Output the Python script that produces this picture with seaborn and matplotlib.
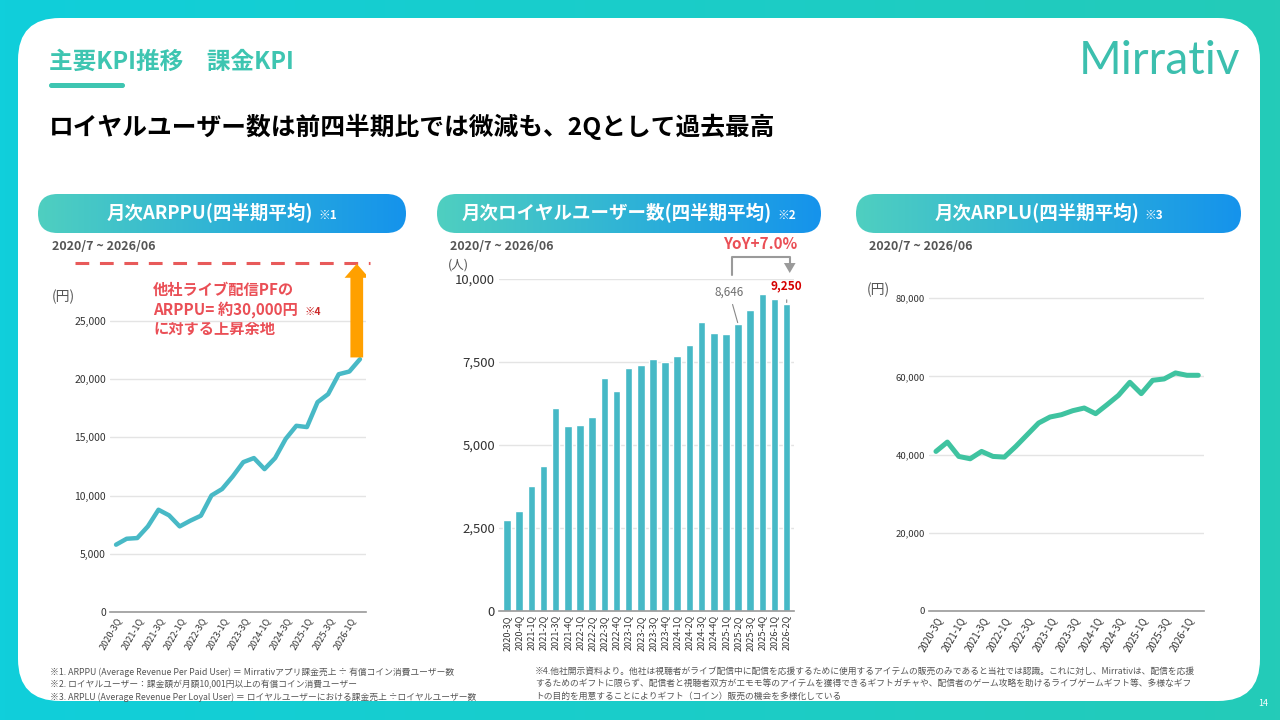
import matplotlib
matplotlib.use("Agg")
import numpy as np
import pandas as pd
import seaborn as sns
import matplotlib.pyplot as plt
from matplotlib.patches import FancyBboxPatch
from matplotlib.colors import LinearSegmentedColormap

# -----------------------------
# data
# -----------------------------
quarters = [
    "2020-3Q", "2020-4Q", "2021-1Q", "2021-2Q", "2021-3Q", "2021-4Q",
    "2022-1Q", "2022-2Q", "2022-3Q", "2022-4Q", "2023-1Q", "2023-2Q",
    "2023-3Q", "2023-4Q", "2024-1Q", "2024-2Q", "2024-3Q", "2024-4Q",
    "2025-1Q", "2025-2Q", "2025-3Q", "2025-4Q", "2026-1Q", "2026-2Q",
]
arppu = [5780, 6290, 6350, 7350, 8780, 8300, 7350, 7840, 8270, 10010, 10560, 11640,
         12870, 13220, 12270, 13220, 14870, 15990, 15880, 18020, 18710, 20420, 20650, 21710]
loyal_users = [2744, 3015, 3779, 4372, 6111, 5558, 5588, 5839, 7025, 6623, 7317, 7417,
               7578, 7487, 7668, 8010, 8703, 8372, 8352, 8646, 9055, 9548, 9387, 9250]
arplu = [40810, 43200, 39530, 38930, 40810, 39530, 39360, 42090, 45080, 48070, 49610, 50200,
         51230, 51910, 50460, 52760, 55150, 58490, 55580, 59000, 59340, 60880, 60280, 60280]
peer_arppu = 30000

df = pd.DataFrame({"quarter": quarters, "arppu": arppu,
                   "loyal": loyal_users, "arplu": arplu})

# -----------------------------
# style
# -----------------------------
sns.set_theme(style="white")
plt.rcParams["font.family"] = ["Noto Sans CJK JP", "DejaVu Sans"]

W, H = 1280, 720
fig = plt.figure(figsize=(12.8, 7.2), dpi=100)

def px_axes(x0, y0, x1, y1):
    return fig.add_axes([x0 / W, 1 - y1 / H, (x1 - x0) / W, (y1 - y0) / H])

# background canvas in pixel coordinates
bg = fig.add_axes([0, 0, 1, 1])
grad = np.linspace(0, 1, 256).reshape(1, -1)
teal_cmap = LinearSegmentedColormap.from_list("teal", ["#10cfdb", "#24cbb8"])
bg.imshow(grad, extent=(0, W, H, 0), cmap=teal_cmap, aspect="auto", zorder=0)
bg.add_patch(FancyBboxPatch((18, 18), 1242, 683,
                            boxstyle="round,pad=0,rounding_size=42",
                            fc="white", ec="none", zorder=1))
bg.axis("off")

# header
bg.text(49, 62, "主要KPI推移　課金KPI", fontsize=17, fontweight="bold",
        color="#3ec5b1", va="center", ha="left", zorder=3)
bg.add_patch(FancyBboxPatch((49, 83), 76, 5, boxstyle="round,pad=0,rounding_size=2.5",
                            fc="#3ec5b1", ec="none", zorder=3))
bg.text(49, 127, "ロイヤルユーザー数は前四半期比では微減も、2Qとして過去最高",
        fontsize=17.8, fontweight="bold", color="black", va="center", ha="left", zorder=3)
bg.text(1240, 61, "Mirrativ", fontsize=33, family=["Lato", "DejaVu Sans"],
        color="#3cbfae", va="center", ha="right", zorder=3)

# pill headers with gradient
pill_cmap = LinearSegmentedColormap.from_list("pill", ["#4fcfc0", "#2fb3d6", "#1593ec"])
pills = [(38, 406, "月次ARPPU(四半期平均)", "※1"),
         (437, 821, "月次ロイヤルユーザー数(四半期平均)", "※2"),
         (856, 1241, "月次ARPLU(四半期平均)", "※3")]
pill_texts = []
for x0, x1, label, note in pills:
    y0, h = 194, 39
    patch = FancyBboxPatch((x0, y0), x1 - x0, h, boxstyle=f"round,pad=0,rounding_size={h / 2}",
                           fc="none", ec="none", zorder=2)
    bg.add_patch(patch)
    im = bg.imshow(grad, extent=(x0, x1, y0 + h, y0), cmap=pill_cmap, aspect="auto", zorder=2)
    im.set_clip_path(patch)
    t = bg.text(x0, y0 + h / 2, label, fontsize=13.3, fontweight="bold", color="white",
                va="center", ha="left", zorder=3)
    n = bg.text(x0, y0 + h / 2 + 2, note, fontsize=8.5, fontweight="bold", color="white",
                va="center", ha="left", zorder=3)
    pill_texts.append((x0, x1, t, n))

bg.set_xlim(0, W)
bg.set_ylim(H, 0)

# center label + note inside each pill
fig.canvas.draw()
r = fig.canvas.get_renderer()
for x0, x1, t, n in pill_texts:
    wt = t.get_window_extent(r).width
    wn = n.get_window_extent(r).width
    gap = 5
    start = (x0 + x1) / 2 - (wt + gap + wn) / 2
    t.set_x(start)
    n.set_x(start + wt + gap)

# period labels and units
for x in (52, 450, 869):
    bg.text(x, 246, "2020/7 ~ 2026/06", fontsize=9, fontweight="bold", color="#555555",
            va="center", ha="left", zorder=3)
bg.text(52, 297, "(円)", fontsize=10, color="#555555", va="center", ha="left", zorder=3)
bg.text(448, 265, "(人)", fontsize=9, color="#555555", va="center", ha="left", zorder=3)
bg.text(867, 290, "(円)", fontsize=10, color="#555555", va="center", ha="left", zorder=3)

# footnotes
foot_left = [
    "※1. ARPPU (Average Revenue Per Paid User) ＝ Mirrativアプリ課金売上 ÷ 有償コイン消費ユーザー数",
    "※2. ロイヤルユーザー：課金額が月額10,001円以上の有償コイン消費ユーザー",
    "※3. ARPLU (Average Revenue Per Loyal User) ＝ ロイヤルユーザーにおける課金売上 ÷ロイヤルユーザー数",
]
foot_right = [
    "※4.他社開示資料より。他社は視聴者がライブ配信中に配信を応援するために使用するアイテムの販売のみであると当社では認識。これに対し、Mirrativは、配信を応援",
    "するためのギフトに限らず、配信者と視聴者双方がエモモ等のアイテムを獲得できるギフトガチャや、配信者のゲーム攻略を助けるライブゲームギフト等、多様なギフ",
    "トの目的を用意することによりギフト（コイン）販売の機会を多様化している",
]
for i, line in enumerate(foot_left):
    bg.text(50, 672 + i * 12.5, line, fontsize=6.3, color="#555555", va="center", ha="left", zorder=3)
for i, line in enumerate(foot_right):
    bg.text(535, 671 + i * 12.5, line, fontsize=6.3, color="#555555", va="center", ha="left", zorder=3)
bg.text(1263, 703, "14", fontsize=6.5, color="white", va="center", ha="center", zorder=3)

# annotation text for ARPPU
red = "#ea4f56"
bg.text(153, 290, "他社ライブ配信PFの", fontsize=11, fontweight="bold", color=red, va="center", zorder=3)
bg.text(153, 310, "ARPPU= 約30,000円", fontsize=11, fontweight="bold", color=red, va="center", zorder=3)
bg.text(304, 312, "※4", fontsize=7.5, fontweight="bold", color="#cc2a2a", va="center", zorder=3)
bg.text(153, 329, "に対する上昇余地", fontsize=11, fontweight="bold", color=red, va="center", zorder=3)

# -----------------------------
# helpers
# -----------------------------
def style_axis(ax, tick_size):
    ax.set_facecolor("none")
    for s in ("top", "right", "left"):
        ax.spines[s].set_visible(False)
    ax.spines["bottom"].set_color("#9a9a9a")
    ax.spines["bottom"].set_linewidth(1.2)
    ax.yaxis.grid(True, color="#e4e4e4", lw=1)
    ax.xaxis.grid(False)
    ax.tick_params(length=0, labelsize=tick_size, colors="#333333", pad=3)
    ax.set_xlabel("")
    ax.set_ylabel("")
    ax.yaxis.set_major_formatter(matplotlib.ticker.FuncFormatter(lambda v, p: f"{v:,.0f}"))

# -----------------------------
# left: ARPPU
# -----------------------------
ax1 = px_axes(110, 251, 366, 612)
sns.lineplot(data=df, x="quarter", y="arppu", ax=ax1, color="#48b9c6", lw=3.2, sort=False)
ax1.set_ylim(0, 31000)
ax1.set_yticks(range(0, 25001, 5000))
ax1.set_xlim(-0.57, 23.57)
style_axis(ax1, 7.5)
ax1.set_xticks(range(0, 24, 2))
ax1.set_xticklabels(quarters[::2], rotation=60, ha="right", rotation_mode="anchor", fontsize=6.5)
ax1.axhline(peer_arppu, xmin=-0.137, xmax=1.016, color="#e85a5a", lw=2.2,
            ls=(0, (4.5, 3.5)), clip_on=False)
ax1.arrow(22.7, arppu[-1] + 150, 0, peer_arppu - arppu[-1] - 250, width=1.2, head_width=2.3,
          head_length=1200, length_includes_head=True, color="#ffa000", lw=0, zorder=4)

# -----------------------------
# middle: loyal users
# -----------------------------
ax2 = px_axes(499, 279, 794, 611)
sns.barplot(data=df, x="quarter", y="loyal", ax=ax2, color="#46b9c6", width=0.62,
            saturation=1)
ax2.set_ylim(0, 10000)
ax2.set_yticks(range(0, 10001, 2500))
ax2.set_xlim(-0.66, 23.6)
style_axis(ax2, 9.5)
ax2.tick_params(axis="x", labelsize=6.5, pad=3)
ax2.set_xticks(range(24))
ax2.set_xticklabels(quarters, rotation=90)

i_prev, i_last = 19, 23
ax2.annotate(f"{loyal_users[i_prev]:,}", xy=(i_prev, loyal_users[i_prev]),
             xytext=(-6.5, 23), textcoords="offset points", ha="center", va="center",
             fontsize=8.5, color="#6f6f6f", annotation_clip=False,
             arrowprops=dict(arrowstyle="-", color="#888888", lw=0.8, shrinkA=2, shrinkB=1))
ax2.annotate(f"{loyal_users[i_last]:,}", xy=(i_last, loyal_users[i_last]),
             xytext=(0, 13), textcoords="offset points", ha="center", va="center",
             fontsize=8.5, fontweight="bold", color="#d50000", annotation_clip=False,
             arrowprops=dict(arrowstyle="-", color="#888888", lw=0.8, shrinkA=3, shrinkB=1))
yoy = loyal_users[i_last] / loyal_users[i_prev] - 1
ax2.plot([i_prev - 0.5, i_prev - 0.5, i_last + 0.25, i_last + 0.25],
         [10130, 10670, 10670, 10450], color="#9a9a9a", lw=1.5, clip_on=False)
ax2.annotate("", xy=(i_last + 0.25, 10180), xytext=(i_last + 0.25, 10460),
             annotation_clip=False,
             arrowprops=dict(arrowstyle="-|>,head_width=0.35,head_length=0.6",
                             color="#9a9a9a", lw=0, shrinkA=0, shrinkB=0))
ax2.text(20.8, 11060, f"YoY+{yoy * 100:.1f}%", fontsize=11, fontweight="bold",
         color=red, ha="center", va="center", clip_on=False)

# -----------------------------
# right: ARPLU
# -----------------------------
ax3 = px_axes(929, 297, 1204, 611)
sns.lineplot(data=df, x="quarter", y="arplu", ax=ax3, color="#3fc3a0", lw=3.6, sort=False)
ax3.set_ylim(0, 80300)
ax3.set_yticks(range(0, 80001, 20000))
ax3.set_xlim(-0.61, 23.5)
style_axis(ax3, 6.8)
ax3.set_xticks(range(0, 24, 2))
ax3.set_xticklabels(quarters[::2], rotation=60, ha="right", rotation_mode="anchor", fontsize=7)

fig.savefig("out.png", dpi=100)
